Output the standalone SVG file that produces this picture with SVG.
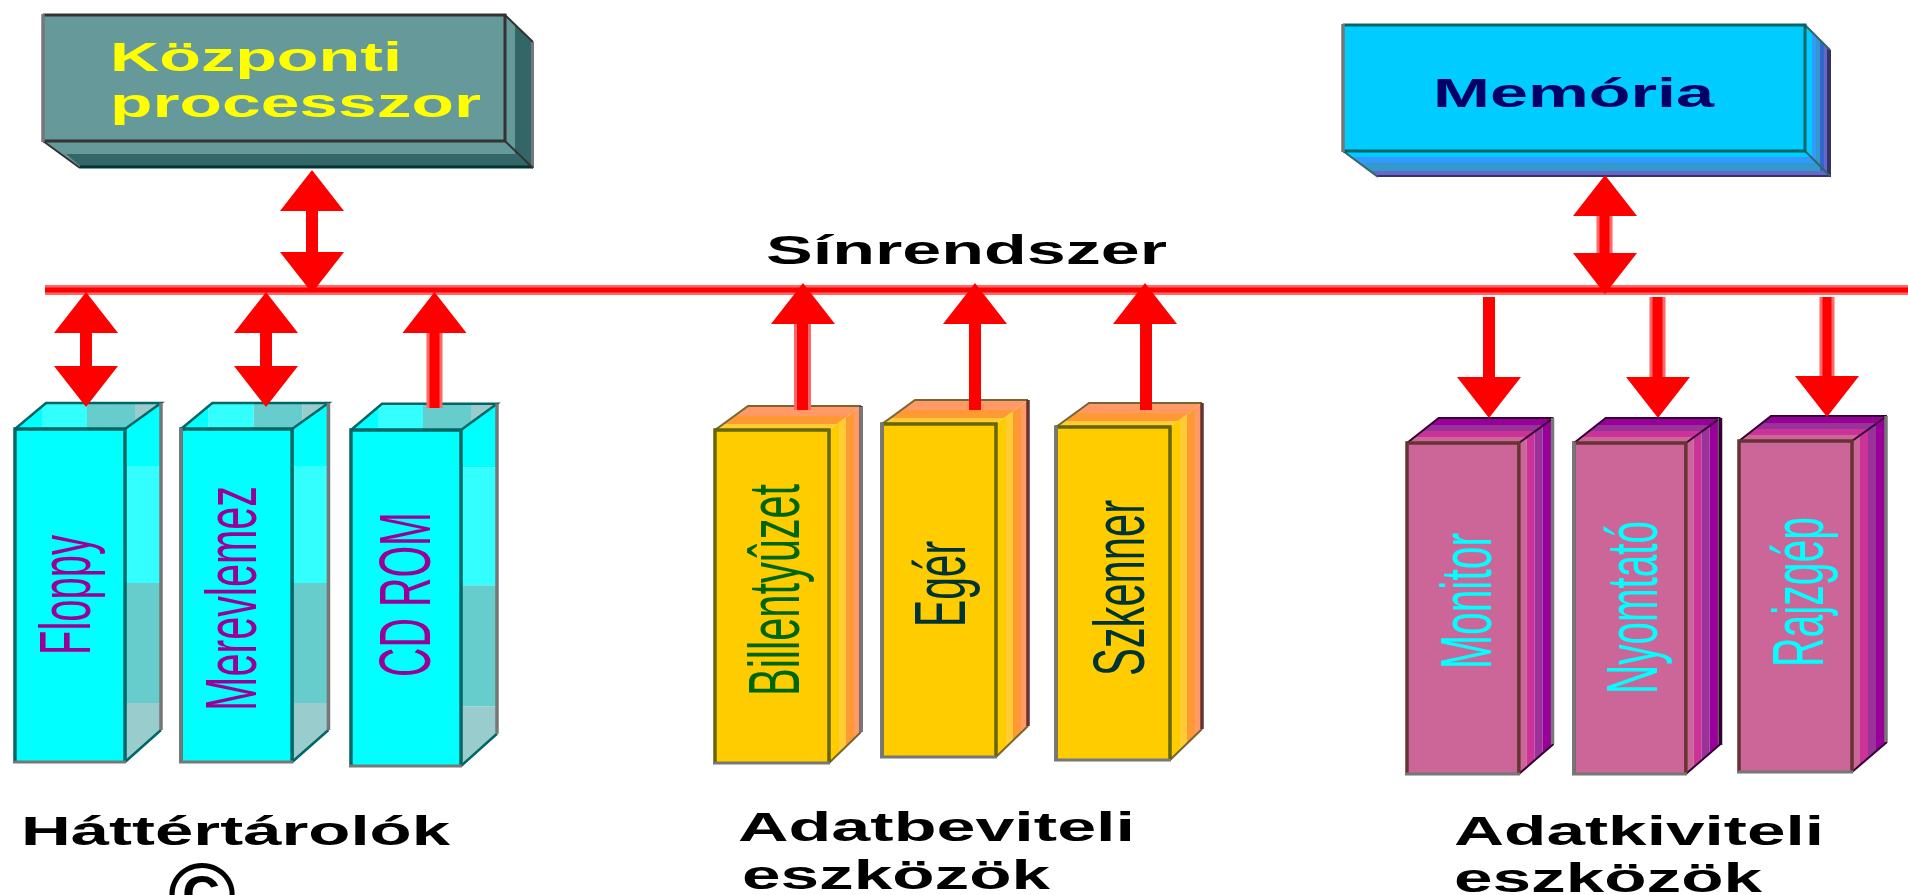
<svg xmlns="http://www.w3.org/2000/svg" xmlns:xlink="http://www.w3.org/1999/xlink" width="1908" height="895" viewBox="0 0 1908 895">
<style>
text{font-family:"Liberation Sans",Arial,sans-serif}
.h{font-weight:700;font-size:40px;fill:#000}
.v{font-size:72px}
.core{fill:#f00}
.halo{fill:#f66}
</style>
<defs>
<clipPath id="cSide"><polygon points="110,0 146,-26 146,301 110,333"/></clipPath>
<clipPath id="cTop"><polygon points="0,0 31,-26 146,-26 110,0"/></clipPath>
<g id="cyan">
<g clip-path="url(#cSide)">
<rect x="110" y="-26" width="38" height="63" fill="#0ff"/><rect x="110" y="37" width="38" height="117" fill="#3ff"/><rect x="110" y="154" width="38" height="120" fill="#6cc"/><rect x="110" y="274" width="38" height="60" fill="#9cc"/>
</g>
<g clip-path="url(#cTop)">
<rect x="0" y="-26" width="27" height="26" fill="#0ff"/><rect x="27" y="-26" width="45" height="26" fill="#3ff"/><rect x="72" y="-26" width="48" height="26" fill="#6cc"/><rect x="120" y="-26" width="28" height="26" fill="#9cc"/>
</g>
<path d="M0,0 31,-26H146L110,0M110,333 146,301" fill="none" stroke="#066" stroke-width="2.5"/>
<path d="M146,-26V301" fill="none" stroke="#777" stroke-width="3.5"/>
<rect x="0" y="0" width="110" height="333" fill="#0ff"/>
<path d="M0,333V0H110V333" fill="none" stroke="#066" stroke-width="3.5"/>
<path d="M-2,333H111" fill="none" stroke="#777" stroke-width="3"/>
</g>
<clipPath id="ySide"><polygon points="114,0 146,-24 146,302 114,333"/></clipPath>
<clipPath id="yTop"><polygon points="0,0 33,-24 146,-24 114,0"/></clipPath>
<g id="yellow">
<g clip-path="url(#ySide)">
<rect x="114" y="-24" width="10" height="360" fill="#fc0"/><rect x="124" y="-24" width="7" height="360" fill="#fc3"/><rect x="131" y="-24" width="8" height="360" fill="#f93"/><rect x="139" y="-24" width="6" height="360" fill="#f96"/>
</g>
<g clip-path="url(#yTop)">
<rect x="0" y="-24" width="147" height="10" fill="#f96"/><rect x="0" y="-14" width="147" height="8" fill="#f93"/><rect x="0" y="-6" width="147" height="6" fill="#fc3"/>
</g>
<path d="M0,0 33,-24H146M114,333 146,302" fill="none" stroke="#763" stroke-width="2"/>
<path d="M146,-24V302" fill="none" stroke="#633" stroke-width="3.5"/>
<rect x="0" y="0" width="114" height="333" fill="#fc0"/>
<path d="M0,333V0H114V333" fill="none" stroke="#660" stroke-width="3.5"/>
<path d="M-2,333H115" fill="none" stroke="#777" stroke-width="3"/>
</g>
<clipPath id="pSide"><polygon points="113,0 148,-25 148,301 113,331"/></clipPath>
<clipPath id="pTop"><polygon points="0,0 32,-25 148,-25 113,0"/></clipPath>
<g id="purple">
<g clip-path="url(#pSide)">
<rect x="113" y="-25" width="8" height="360" fill="#c69"/><rect x="121" y="-25" width="8" height="360" fill="#c39"/><rect x="129" y="-25" width="8" height="360" fill="#939"/><rect x="137" y="-25" width="9" height="360" fill="#909"/>
</g>
<g clip-path="url(#pTop)">
<rect x="0" y="-25" width="148" height="7" fill="#909"/><rect x="0" y="-18" width="148" height="6" fill="#939"/><rect x="0" y="-12" width="148" height="6" fill="#c39"/><rect x="0" y="-6" width="148" height="6" fill="#c69"/>
</g>
<path d="M0,0 32,-25H148M113,0 148,-25M113,331 148,301" fill="none" stroke="#303" stroke-width="2"/>
<path d="M147,-25V301" fill="none" stroke="#777" stroke-width="3.5"/>
<rect x="0" y="0" width="113" height="331" fill="#c69"/>
<path d="M0,331V0H113V331" fill="none" stroke="#633" stroke-width="3.5"/>
<path d="M-2,331H114" fill="none" stroke="#777" stroke-width="3"/>
</g>
<polygon id="up" points="0,0 32,41 -32,41"/>
<polygon id="down" points="0,0 32,-41 -32,-41"/>
</defs>
<rect width="1908" height="895" fill="#fff"/>

<g id="cpu">
<polygon points="43,141 80,168 533,168 533,42 505,15 505,141" fill="#699"/>
<polygon points="515,25 533,42 533,166 515,154" fill="#366"/>
<polygon points="66,154 515,154 533,166 80,166" fill="#366"/>
<path d="M80,167H533" stroke="#033" stroke-width="3"/>
<path d="M532.500,42V168" stroke="#777" stroke-width="3"/>
<path d="M505,15 533,42M505,141 533,168M43,141 80,168" fill="none" stroke="#333" stroke-width="2"/>
<rect x="43" y="15" width="462" height="126" fill="#699"/>
<path d="M43,15H505V141H43" fill="none" stroke="#333" stroke-width="3"/>
<path d="M43,14V142" stroke="#777" stroke-width="3.500"/>
<text class="h" x="110" y="71" style="fill:#ff0" textLength="292" lengthAdjust="spacingAndGlyphs">Központi</text>
<text class="h" x="110" y="117" style="fill:#ff0" textLength="371" lengthAdjust="spacingAndGlyphs">processzor</text>
</g>

<g id="memoria">
<polygon points="1343,151 1378,177 1830,177 1830,50 1805,25 1805,151" fill="#0cf"/>
<polygon points="1812,32 1816,36 1816,163 1812,157" fill="#39f"/>
<polygon points="1816,36 1820,40 1820,171 1816,163" fill="#39c"/>
<polygon points="1820,40 1824,44 1824,171 1820,171" fill="#36c"/>
<polygon points="1824,44 1827,47 1827,175 1824,175" fill="#66c"/>
<polygon points="1827,47 1831,50 1831,177 1827,177" fill="#336"/>
<polygon points="1351,157 1812,157 1816,163 1359,163" fill="#39f"/>
<polygon points="1359,163 1816,163 1820,171 1370,171" fill="#39c"/>
<polygon points="1370,171 1827,171 1827,175 1375,175" fill="#66c"/>
<polygon points="1375,175 1831,175 1831,177 1378,177" fill="#336"/>
<path d="M1805,25 1830,50M1805,151 1830,176M1343,151 1378,177" fill="none" stroke="#366" stroke-width="2"/>
<rect x="1343" y="25" width="462" height="126" fill="#0cf"/>
<path d="M1343,25H1805V151H1343" fill="none" stroke="#066" stroke-width="3"/>
<path d="M1343,24V152" stroke="#777" stroke-width="3.500"/>
<text class="h" x="1433" y="107" style="fill:#006" textLength="281" lengthAdjust="spacingAndGlyphs">Memória</text>
</g>

<g id="floppy">
<use href="#cyan" transform="translate(15,429)"/>
<text class="v" transform="translate(90,655) rotate(-90)" fill="#909" textLength="120" lengthAdjust="spacingAndGlyphs">Floppy</text>
</g>
<g id="merevlemez">
<use href="#cyan" transform="translate(181,429) scale(1.01,1)"/>
<path d="M181,428V763" stroke="#777" stroke-width="3.500"/>
<text class="v" transform="translate(256,711) rotate(-90)" fill="#909" textLength="225" lengthAdjust="spacingAndGlyphs">Merevlemez</text>
</g>
<g id="cdrom">
<use href="#cyan" transform="translate(351,430) scale(1,1.009)"/>
<text class="v" transform="translate(430,677) rotate(-90)" fill="#909" textLength="165" lengthAdjust="spacingAndGlyphs">CD ROM</text>
</g>

<g id="billentyuzet">
<use href="#yellow" transform="translate(715,430)"/>
<path d="M861,407V732" stroke="#777" stroke-width="3.500"/>
<text class="v" transform="translate(799,696) rotate(-90)" fill="#060" textLength="212" lengthAdjust="spacingAndGlyphs">Billentyûzet</text>
</g>
<g id="eger">
<use href="#yellow" transform="translate(882,424)"/>
<path d="M882,423V757" stroke="#777" stroke-width="3.500"/>
<text class="v" transform="translate(965,627) rotate(-90)" fill="#033" textLength="86" lengthAdjust="spacingAndGlyphs">Egér</text>
</g>
<g id="szkenner">
<use href="#yellow" transform="translate(1056,427)"/>
<path d="M1056,426V760" stroke="#777" stroke-width="3.500"/>
<text class="v" transform="translate(1143.500,676) rotate(-90)" fill="#033" textLength="176" lengthAdjust="spacingAndGlyphs">Szkenner</text>
</g>

<g id="monitor">
<use href="#purple" transform="translate(1407,443) scale(.99,1)"/>
<text class="v" transform="translate(1491,669) rotate(-90)" fill="#0ff" textLength="136" lengthAdjust="spacingAndGlyphs">Monitor</text>
</g>
<g id="nyomtato">
<use href="#purple" transform="translate(1574,443) scale(.99,1)"/>
<path d="M1574,442V775" stroke="#777" stroke-width="3.500"/>
<path d="M1720.500,418V745" stroke="#303" stroke-width="3.500"/>
<text class="v" transform="translate(1657,694) rotate(-90)" fill="#0ff" textLength="173" lengthAdjust="spacingAndGlyphs">Nyomtató</text>
</g>
<g id="rajzgep">
<use href="#purple" transform="translate(1739,441)"/>
<text class="v" transform="translate(1823,667) rotate(-90)" fill="#0ff" textLength="150" lengthAdjust="spacingAndGlyphs">Rajzgép</text>
</g>

<g id="connectors">
<rect class="halo" x="45" y="285" width="1863" height="10"/>
<rect class="core" x="45" y="287.500" width="1863" height="5"/>
<rect class="core" x="306" y="205" width="12" height="52"/>
<use href="#up" class="core" x="312" y="170"/><use href="#down" class="core" x="312" y="293"/>
<rect class="core" x="80" y="330" width="12" height="40"/>
<use href="#up" class="core" x="86" y="292"/><use href="#down" class="core" x="86" y="407"/>
<rect class="core" x="260" y="330" width="12" height="40"/>
<use href="#up" class="core" x="266" y="292"/><use href="#down" class="core" x="266" y="407"/>
<rect class="halo" x="426.500" y="330" width="16" height="78"/><rect class="core" x="429.500" y="330" width="10" height="78"/>
<use href="#up" class="core" x="434.500" y="292"/>
<rect class="halo" x="794" y="322" width="17" height="88"/><rect class="core" x="797" y="322" width="11" height="88"/>
<use href="#up" class="core" x="803" y="283"/>
<rect class="core" x="969" y="322" width="12" height="88"/>
<use href="#up" class="core" x="975" y="283"/>
<rect class="core" x="1140" y="322" width="12" height="88"/>
<use href="#up" class="core" x="1145" y="283"/>
<rect class="halo" x="1596.500" y="212" width="16" height="42"/><rect class="core" x="1599.500" y="212" width="10" height="42"/>
<use href="#up" class="core" x="1605" y="175"/><use href="#down" class="core" x="1605" y="294"/>
<rect class="core" x="1483" y="297" width="12" height="84"/>
<use href="#down" class="core" x="1489" y="418"/>
<rect class="halo" x="1649.500" y="297" width="16" height="84"/><rect class="core" x="1652.500" y="297" width="10" height="84"/>
<use href="#down" class="core" x="1658" y="418"/>
<rect class="halo" x="1819.500" y="297" width="15" height="84"/><rect class="core" x="1822.500" y="297" width="9" height="84"/>
<use href="#down" class="core" x="1827" y="417"/>
</g>

<g id="labels">
<text class="h" x="766" y="264" textLength="401" lengthAdjust="spacingAndGlyphs">Sínrendszer</text>
<text class="h" x="21" y="845" textLength="429" lengthAdjust="spacingAndGlyphs">Háttértárolók</text>
<text x="168" y="924" font-size="88" font-weight="700" textLength="68" lengthAdjust="spacingAndGlyphs">©</text>
<text class="h" x="738" y="841" textLength="397" lengthAdjust="spacingAndGlyphs">Adatbeviteli</text>
<text class="h" x="742" y="889" textLength="308" lengthAdjust="spacingAndGlyphs">eszközök</text>
<text class="h" x="1454" y="845" textLength="370" lengthAdjust="spacingAndGlyphs">Adatkiviteli</text>
<text class="h" x="1454" y="892" textLength="308" lengthAdjust="spacingAndGlyphs">eszközök</text>
</g>
</svg>
